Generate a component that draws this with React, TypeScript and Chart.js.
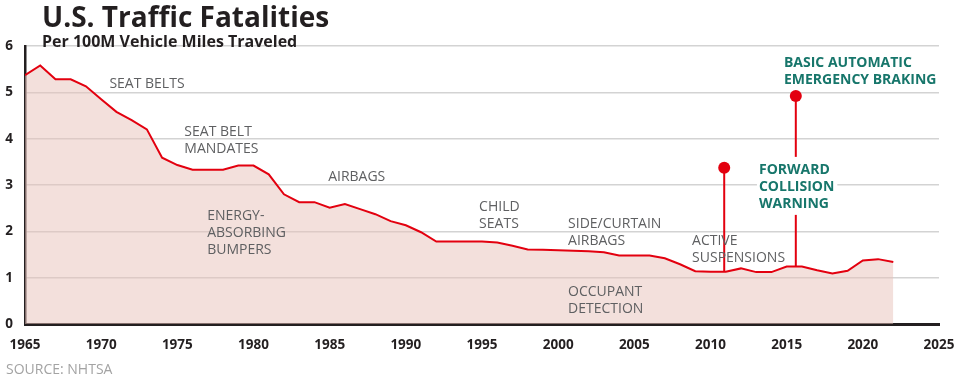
import React, { useEffect, useRef } from "react";
import { Chart, registerables } from "chart.js";

Chart.register(...registerables);

const YEARS = [
  1965, 1966, 1967, 1968, 1969, 1970, 1971, 1972, 1973, 1974,
  1975, 1976, 1977, 1978, 1979, 1980, 1981, 1982, 1983, 1984,
  1985, 1986, 1987, 1988, 1989, 1990, 1991, 1992, 1993, 1994,
  1995, 1996, 1997, 1998, 1999, 2000, 2001, 2002, 2003, 2004,
  2005, 2006, 2007, 2008, 2009, 2010, 2011, 2012, 2013, 2014,
  2015, 2016, 2017, 2018, 2019, 2020, 2021, 2022,
];

const FATALITY_RATE = [
  5.37, 5.58, 5.28, 5.28, 5.13, 4.85, 4.58, 4.4, 4.2, 3.59,
  3.43, 3.33, 3.33, 3.33, 3.42, 3.42, 3.23, 2.8, 2.63, 2.63,
  2.51, 2.59, 2.48, 2.37, 2.22, 2.13, 1.98, 1.78, 1.78, 1.78,
  1.78, 1.76, 1.69, 1.61, 1.6, 1.59, 1.58, 1.57, 1.55, 1.48,
  1.48, 1.48, 1.42, 1.29, 1.14, 1.13, 1.13, 1.2, 1.12, 1.12,
  1.24, 1.24, 1.16, 1.09, 1.15, 1.37, 1.4, 1.34,
];

const X_MIN = 1965;
const X_MAX = 2025;
const X_STEP = 5;
const Y_MIN = 0;
const Y_MAX = 6;

// Milestone stems: year, value where stem meets the line, value of the dot
const STEM_YEARS = [2010.9, 2015.6];
const STEM_BASES = [1.13, 1.24];
const STEM_TOPS = [3.37, 4.92];

const TITLE = "U.S. Traffic Fatalities";
const SUBTITLE = "Per 100M Vehicle Miles Traveled";
const SOURCE = "SOURCE: NHTSA";

// Annotation labels anchored in data coordinates (left edge, first baseline)
const NOTE_TEXTS = [
  ["SEAT BELTS"],
  ["SEAT BELT", "MANDATES"],
  ["AIRBAGS"],
  ["ENERGY-", "ABSORBING", "BUMPERS"],
  ["CHILD", "SEATS"],
  ["SIDE/CURTAIN", "AIRBAGS"],
  ["OCCUPANT", "DETECTION"],
  ["ACTIVE", "SUSPENSIONS"],
  ["FORWARD", "COLLISION", "WARNING"],
  ["BASIC AUTOMATIC", "EMERGENCY BRAKING"],
];
const NOTE_YEARS = [1970.54, 1975.46, 1984.9, 1976.96, 1994.81, 2000.65, 2000.65, 2008.79, 2013.18, 2014.82];
const NOTE_VALUES = [5.09, 4.06, 3.09, 2.245, 2.44, 2.07, 0.6, 1.705, 3.24, 5.55];
const NOTE_HIGHLIGHT = [false, false, false, false, false, false, false, false, true, true];
const NOTE_BOXED = [false, false, false, false, false, false, false, false, true, false];

const RED = "#e3000f";
const DARK = "#231f20";
const GRAY_TEXT = "#5f6062";
const TEAL = "#17766b";
const FONT = '"Open Sans", "Noto Sans", sans-serif';

const textPlugin = {
  id: "textPlugin",
  afterDatasetsDraw(chart: any) {
    const { ctx, scales } = chart;
    const xs = scales.x;
    const ys = scales.y;
    ctx.save();
    ctx.textAlign = "left";
    ctx.textBaseline = "alphabetic";
    const LH = 17;
    NOTE_TEXTS.forEach((lines, i) => {
      const px = xs.getPixelForValue(NOTE_YEARS[i]);
      const py = ys.getPixelForValue(NOTE_VALUES[i]);
      ctx.font = NOTE_HIGHLIGHT[i] ? `bold 14px ${FONT}` : `500 14px ${FONT}`;
      if (NOTE_BOXED[i]) {
        let w = 0;
        lines.forEach((l) => (w = Math.max(w, ctx.measureText(l).width)));
        ctx.fillStyle = "#ffffff";
        ctx.fillRect(px - 2, py - 17, w + 5, (lines.length - 1) * LH + 24);
      }
      ctx.fillStyle = NOTE_HIGHLIGHT[i] ? TEAL : GRAY_TEXT;
      lines.forEach((l, j) => ctx.fillText(l, px, py + j * LH));
    });
    ctx.restore();
  },
  afterDraw(chart: any) {
    const { ctx } = chart;
    ctx.save();
    ctx.textAlign = "left";
    ctx.textBaseline = "alphabetic";
    ctx.fillStyle = DARK;
    ctx.font = `bold 28px ${FONT}`;
    ctx.fillText(TITLE, 42, 27);
    ctx.font = `bold 16px ${FONT}`;
    ctx.fillText(SUBTITLE, 42, 47);
    ctx.fillStyle = "#a3a3a3";
    ctx.font = `14px ${FONT}`;
    ctx.fillText(SOURCE, 6, 374);
    ctx.restore();
  },
};

export default function App() {
  const ref = useRef<HTMLCanvasElement | null>(null);

  useEffect(() => {
    document.body.style.margin = "0";
    const canvas = ref.current;
    if (!canvas) return;

    const mainData = YEARS.map((yr, i) => ({ x: yr, y: FATALITY_RATE[i] }));
    const stemSets = STEM_YEARS.map((yr, i) => ({
      type: "line" as const,
      data: [
        { x: yr, y: STEM_BASES[i] },
        { x: yr, y: STEM_TOPS[i] },
      ],
      borderColor: RED,
      backgroundColor: RED,
      borderWidth: 2,
      pointRadius: [0, 6],
      pointHoverRadius: [0, 6],
      pointBorderWidth: 0,
      fill: false,
      tension: 0,
    }));

    const chart = new Chart(canvas, {
      type: "line",
      data: {
        datasets: [
          {
            data: mainData,
            borderColor: RED,
            borderWidth: 2,
            backgroundColor: "rgba(231,193,185,0.5)",
            fill: "origin",
            pointRadius: 0,
            tension: 0,
          } as any,
          ...stemSets,
        ],
      },
      options: {
        responsive: false,
        animation: false,
        layout: { padding: { top: 46, right: 22, left: 0, bottom: 0 } },
        plugins: {
          legend: { display: false },
          tooltip: { enabled: false },
          title: { display: false },
        },
        scales: {
          x: {
            type: "linear",
            min: X_MIN,
            max: X_MAX,
            afterFit: (s: any) => {
              s.height = 56;
              s.paddingLeft = 0;
              s.paddingRight = 0;
            },
            grid: { display: false, drawTicks: false },
            border: { display: true, color: DARK, width: 3 },
            ticks: {
              stepSize: X_STEP,
              padding: 13,
              color: DARK,
              font: { family: FONT, weight: "bold", size: 13.5 },
              maxRotation: 0,
              autoSkip: false,
              callback: (v: any) => String(v),
            },
          },
          y: {
            type: "linear",
            min: Y_MIN,
            max: Y_MAX,
            afterFit: (s: any) => {
              s.width = 25;
              s.paddingTop = 0;
              s.paddingBottom = 0;
            },
            grid: { color: "#d3d3d3", lineWidth: 1.5, drawTicks: false },
            border: { display: true, color: DARK, width: 2.5 },
            ticks: {
              stepSize: 1,
              padding: 12,
              color: DARK,
              font: { family: FONT, weight: "bold", size: 13.5 },
              callback: (v: any) => String(v),
            },
          },
        },
      },
      plugins: [textPlugin],
    });

    return () => chart.destroy();
  }, []);

  return (
    <div style={{ width: 961, height: 380 }}>
      <canvas ref={ref} width={961} height={380} style={{ display: "block" }} />
    </div>
  );
}
